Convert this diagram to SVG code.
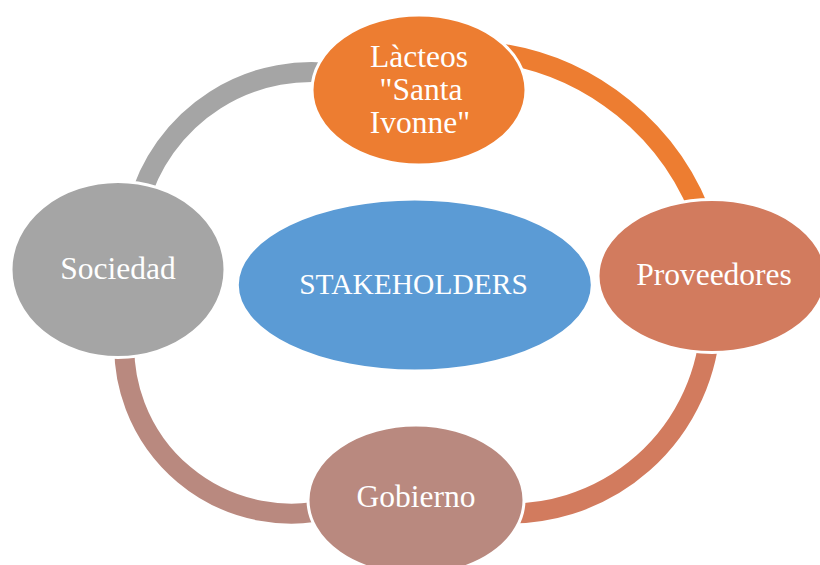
<svg xmlns="http://www.w3.org/2000/svg" width="820" height="565" viewBox="0 0 820 565">
  <style>
    .ring { fill: none; stroke-width: 20; stroke-linecap: butt; }
    .node { stroke: #ffffff; stroke-width: 3; }
    .label { font-family: "Liberation Serif", "Times New Roman", serif; font-size: 31.5px; fill: #ffffff; text-anchor: middle; }
  </style>
  <rect width="820" height="565" fill="#ffffff"/>

  <!-- cycle connectors, drawn beneath the nodes -->
  <g id="connectors">
    <path class="ring" stroke="#A5A5A5" d="M138.1,205 A179.5,179.5 0 0 1 342.7,74.7"/>
    <path class="ring" stroke="#ED7D31" d="M488.2,51.9 A257.2,257.2 0 0 1 705.9,228.2"/>
    <path class="ring" stroke="#D27B5E" d="M710.7,319.6 A201,201 0 0 1 492.3,512.8"/>
    <path class="ring" stroke="#B9897F" d="M334.5,507.9 A167,167 0 0 1 124.9,332"/>
  </g>

  <g id="node-lacteos">
    <ellipse class="node" cx="419" cy="90" rx="107" ry="75" fill="#ED7D31"/>
    <text class="label" x="419" y="67">Làcteos</text>
    <text class="label" x="421" y="100">"Santa</text>
    <text class="label" x="420" y="133">Ivonne"</text>
  </g>

  <g id="node-proveedores">
    <ellipse class="node" cx="712" cy="276" rx="114" ry="76.5" fill="#D27B5E"/>
    <text class="label" x="714" y="285">Proveedores</text>
  </g>

  <g id="node-gobierno">
    <ellipse class="node" cx="416" cy="500" rx="108" ry="75" fill="#B9897F"/>
    <text class="label" x="416" y="507">Gobierno</text>
  </g>

  <g id="node-sociedad">
    <ellipse class="node" cx="118" cy="269.5" rx="107" ry="88" fill="#A5A5A5"/>
    <text class="label" x="118" y="279">Sociedad</text>
  </g>

  <g id="node-stakeholders">
    <ellipse class="node" cx="414.8" cy="285" rx="177.5" ry="86" fill="#5B9BD5"/>
    <text class="label" x="413.5" y="294" style="font-size:29.5px">STAKEHOLDERS</text>
  </g>
</svg>
